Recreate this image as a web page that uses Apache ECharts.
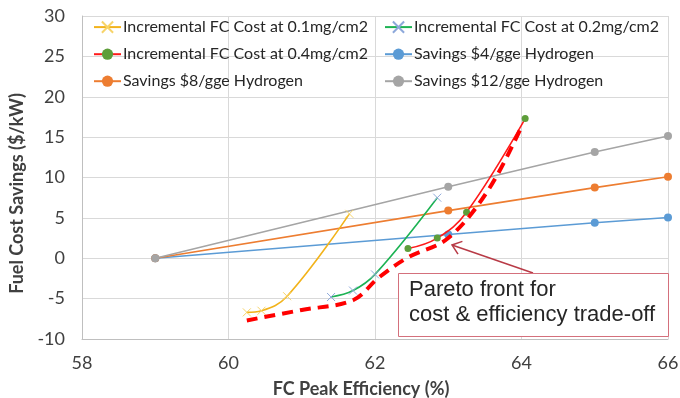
<!DOCTYPE html>
<html>
<head>
<meta charset="utf-8">
<script src="https://cdn.jsdelivr.net/npm/echarts@6/dist/echarts.min.js"></script>
<style>
html,body{margin:0;padding:0;background:#fff;}
#chart{width:680px;height:398px;}
</style>
</head>
<body>
<div id="chart"></div>
<script>
// ---- data ----
const seriesNames = [
  'Incremental FC Cost at 0.1mg/cm2',
  'Incremental FC Cost at 0.2mg/cm2',
  'Incremental FC Cost at 0.4mg/cm2',
  'Savings $4/gge Hydrogen',
  'Savings $8/gge Hydrogen',
  'Savings $12/gge Hydrogen'
];
const effSavings = [59, 63, 65, 66];
const savings4 = [0, 2.95, 4.4, 5.05];
const savings8 = [0, 5.9, 8.75, 10.1];
const savings12 = [0, 8.85, 13.15, 15.15];

const eff01 = [60.25, 60.45, 60.8, 61.65];
const cost01 = [-6.7, -6.5, -4.7, 5.5];
const eff02 = [61.4, 61.7, 62.0, 62.85];
const cost02 = [-4.8, -4.0, -2.0, 7.5];
const eff04 = [62.45, 62.85, 63.25, 64.05];
const cost04 = [1.2, 2.5, 5.7, 17.3];

const effPareto = [60.25, 61.0, 61.7, 62.05, 62.45, 63.0, 63.55, 64.0];
const costPareto = [-7.7, -6.4, -5.2, -2.4, 0.1, 2.5, 8.5, 16.3];

const annotationText = ['Pareto front for', 'cost & efficiency trade-off'];
const xAxisTitle = 'FC Peak Efficiency (%)';
const yAxisTitle = 'Fuel Cost Savings ($/kW)';

const zip = (xs, ys) => xs.map((x, i) => [x, ys[i]]);

const FONT = 'Lato';
const xMark = 'path://M0,0L10,10M10,0L0,10';

const chart = echarts.init(document.getElementById('chart'), null, {renderer: 'canvas'});

function incSeries(name, xs, ys, lineColor, markColor, symbol, size) {
  return {
    name: name, type: 'line', data: zip(xs, ys),
    smooth: 0.4,
    symbol: symbol, symbolSize: size, showSymbol: true,
    lineStyle: {color: lineColor, width: 1.6},
    itemStyle: symbol === xMark
      ? {color: 'none', borderColor: markColor, borderWidth: 1}
      : {color: markColor, borderColor: markColor, borderWidth: 0},
    emphasis: {disabled: true}, z: 3
  };
}
function savSeries(name, ys, color) {
  return {
    name: name, type: 'line', data: zip(effSavings, ys),
    symbol: 'circle', symbolSize: 8,
    lineStyle: {color: color, width: 1.6},
    itemStyle: {color: color},
    emphasis: {disabled: true}, z: 2
  };
}

const legendCommon = {
  orient: 'vertical', itemWidth: 27, itemHeight: 14, itemGap: 11, padding: 0,
  textStyle: {fontFamily: FONT, fontSize: 16, color: '#262626', padding: [0, 0, 0, -3]},
  selectedMode: false
};

const option = {
  animation: false,
  backgroundColor: '#fff',
  grid: {left: 82, right: 12, top: 16, bottom: 59, containLabel: false, outerBoundsMode: 'none'},
  legend: [
    Object.assign({left: 93, top: 19, data: [seriesNames[0], seriesNames[2], seriesNames[4]]}, legendCommon),
    Object.assign({left: 384, top: 19, data: [seriesNames[1], seriesNames[3], seriesNames[5]]}, legendCommon)
  ],
  xAxis: {
    type: 'value', min: 58, max: 66, interval: 2,
    name: xAxisTitle, nameLocation: 'middle', nameGap: 41,
    nameTextStyle: {fontFamily: FONT, fontSize: 18, fontWeight: 'bold', color: '#404040', padding: [0, 28, 0, 0]},
    axisLine: {show: true, onZero: false, lineStyle: {color: '#bfbfbf', width: 1}},
    axisTick: {show: false},
    axisLabel: {fontFamily: FONT, fontSize: 18, color: '#404040', margin: 15},
    splitLine: {show: true, lineStyle: {color: '#d9d9d9', width: 1}}
  },
  yAxis: {
    type: 'value', min: -10, max: 30, interval: 5,
    name: yAxisTitle, nameLocation: 'middle', nameGap: 54, nameRotate: 90,
    nameTextStyle: {fontFamily: FONT, fontSize: 18, fontWeight: 'bold', color: '#404040', padding: [0, 32, 0, 0]},
    axisLine: {show: true, lineStyle: {color: '#bfbfbf', width: 1}},
    axisTick: {show: false},
    axisLabel: {fontFamily: FONT, fontSize: 18, color: '#404040', margin: 17},
    splitLine: {show: true, lineStyle: {color: '#d9d9d9', width: 1}}
  },
  series: [
    incSeries(seriesNames[0], eff01, cost01, '#f2b31b', '#f7d46a', xMark, 8),
    incSeries(seriesNames[1], eff02, cost02, '#1db354', '#8ea9db', xMark, 8),
    incSeries(seriesNames[2], eff04, cost04, '#ff1a1a', '#5e9e3a', 'circle', 7),
    savSeries(seriesNames[3], savings4, '#5b9bd5'),
    savSeries(seriesNames[4], savings8, '#ed7d31'),
    savSeries(seriesNames[5], savings12, '#a5a5a5'),
    {
      name: 'Pareto front', type: 'line', data: zip(effPareto, costPareto),
      smooth: 0.35, symbol: 'none',
      lineStyle: {color: '#ff0000', width: 4, type: [11, 7], cap: 'butt'},
      emphasis: {disabled: true}, z: 4
    }
  ],
  graphic: [
    {
      type: 'line', z: 100,
      shape: {x1: 533, y1: 273, x2: 452, y2: 245},
      style: {stroke: '#b83a46', lineWidth: 1.5}
    },
    {
      type: 'polyline', z: 100,
      shape: {points: [[462.4, 241.4], [452, 245], [458, 254.2]]},
      style: {stroke: '#b83a46', lineWidth: 1.5, fill: null}
    },
    {
      type: 'rect', z: 100,
      shape: {x: 398.5, y: 273.5, width: 270, height: 63},
      style: {fill: '#ffffff', stroke: '#d4707c', lineWidth: 1}
    },
    {
      type: 'text', z: 101, x: 409, y: 277,
      style: {
        text: annotationText.join('\n'),
        font: '22px "Liberation Sans", Arial, sans-serif',
        lineHeight: 25, fill: '#262626', verticalAlign: 'top', align: 'left'
      }
    }
  ]
};
chart.setOption(option);
</script>
</body>
</html>
